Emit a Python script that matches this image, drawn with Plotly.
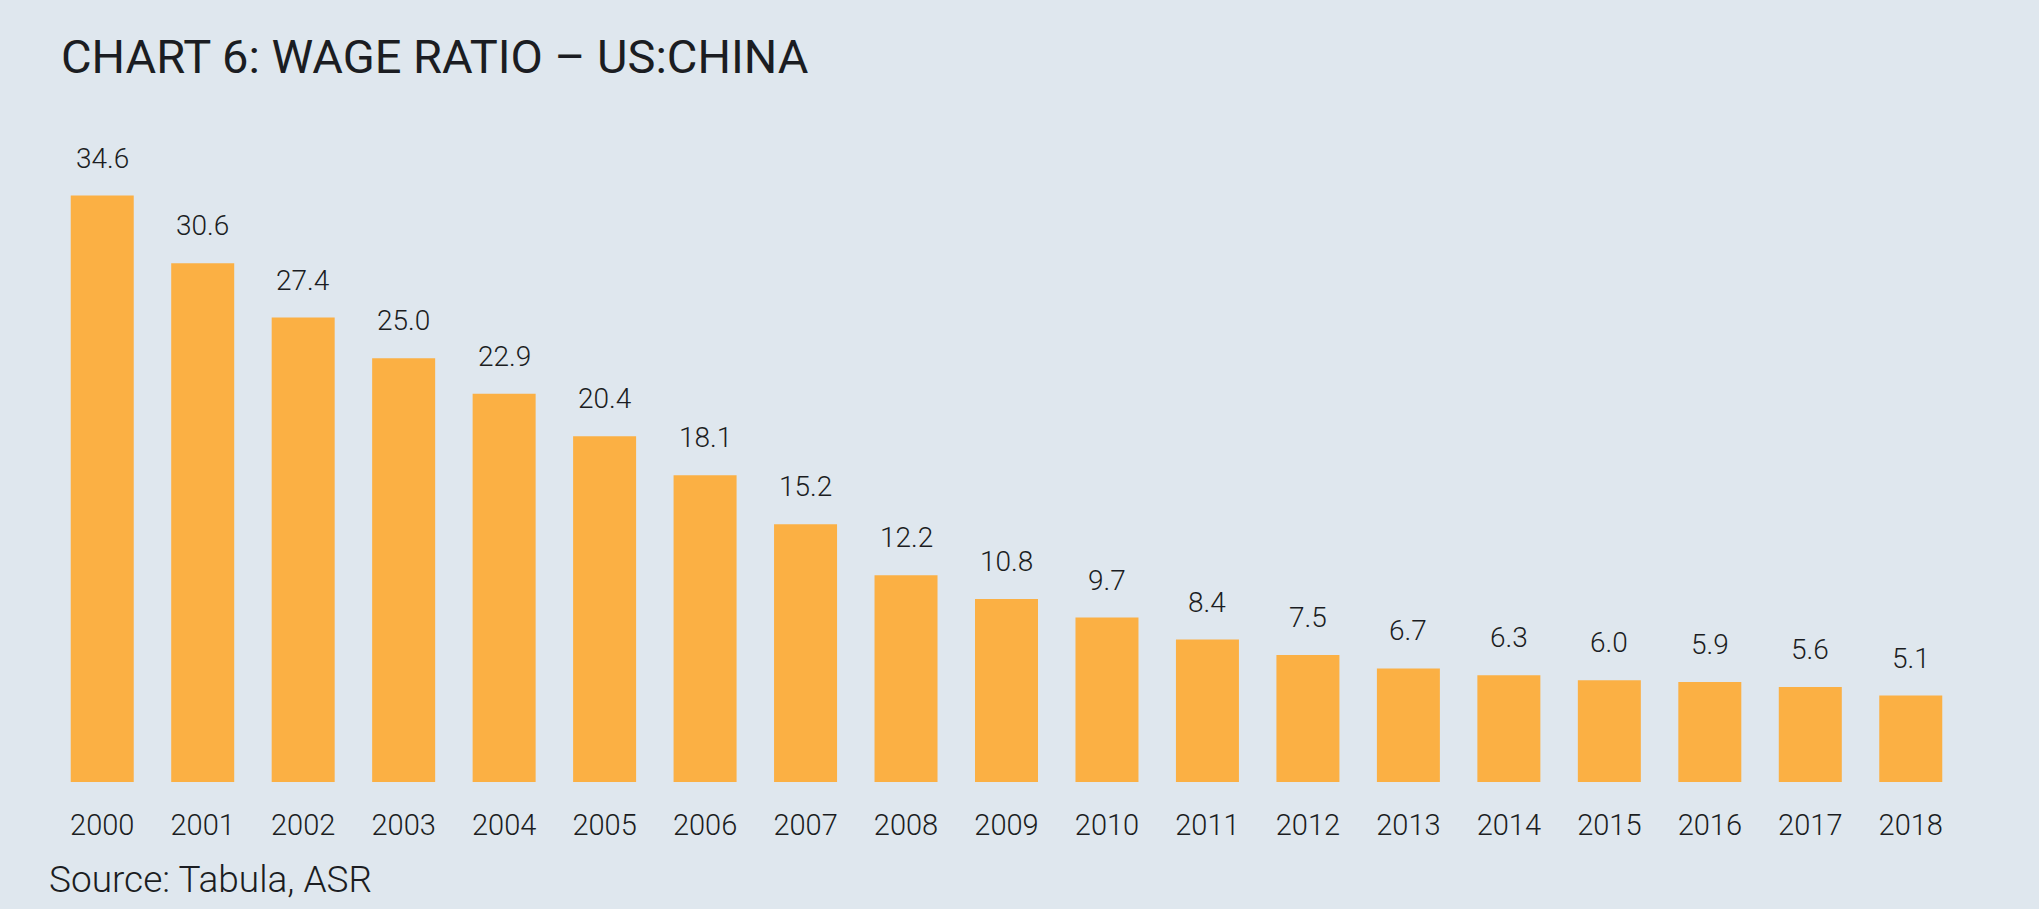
import plotly.graph_objects as go

# Wage ratio US:China by year
years = [str(y) for y in range(2000, 2019)]
ratios = [34.6, 30.6, 27.4, 25.0, 22.9, 20.4, 18.1, 15.2, 12.2, 10.8,
          9.7, 8.4, 7.5, 6.7, 6.3, 6.0, 5.9, 5.6, 5.1]
value_labels = ["%.1f" % v for v in ratios]

BG = "#dfe7ee"
BAR = "#fbb044"
INK = "#1b1d22"
FONT = "Roboto"

bars = go.Bar(x=years, y=ratios, marker=dict(color=BAR, line=dict(width=0)),
              hoverinfo="x+y")

# value labels above each bar (x given as category index, since the
# year strings would otherwise be read as serial numbers)
labels = [dict(x=i, y=y, text=t, showarrow=False, xref="x", yref="y",
               yanchor="bottom", yshift=19,
               font=dict(family=FONT, size=28, color=INK, weight=300))
          for i, (y, t) in enumerate(zip(ratios, value_labels))]

labels.append(dict(text="Source: Tabula, ASR", showarrow=False,
                   xref="paper", yref="paper", x=0, y=-0.1445,
                   xanchor="left", yanchor="middle", xshift=-5,
                   font=dict(family=FONT, size=37, color=INK, weight=300)))

layout = go.Layout(
    width=2039, height=909,
    paper_bgcolor=BG, plot_bgcolor=BG,
    margin=dict(l=52, r=78, t=104, b=127),
    title=dict(text="CHART 6: WAGE RATIO \u2013 US:CHINA",
               xref="container", yref="container",
               x=61 / 2039, y=1 - 57 / 909, xanchor="left", yanchor="middle",
               font=dict(family=FONT, size=47, color=INK)),
    xaxis=dict(type="category", range=[-0.5, 18.5], showgrid=False,
               showline=False, zeroline=False, ticks="outside", ticklen=17,
               tickcolor=BG,
               tickfont=dict(family=FONT, size=29, color=INK, weight=300)),
    yaxis=dict(range=[0, 40], visible=False, showgrid=False),
    bargap=0.373,
    showlegend=False,
    annotations=labels,
)

fig = go.Figure(data=[bars], layout=layout)
# drop the default page margin so the figure fills the window
fig.write_html("out.html", config={"displayModeBar": False}, post_script=(
    "document.body.style.margin='0';"
    "document.body.style.background='%s';" % BG))
